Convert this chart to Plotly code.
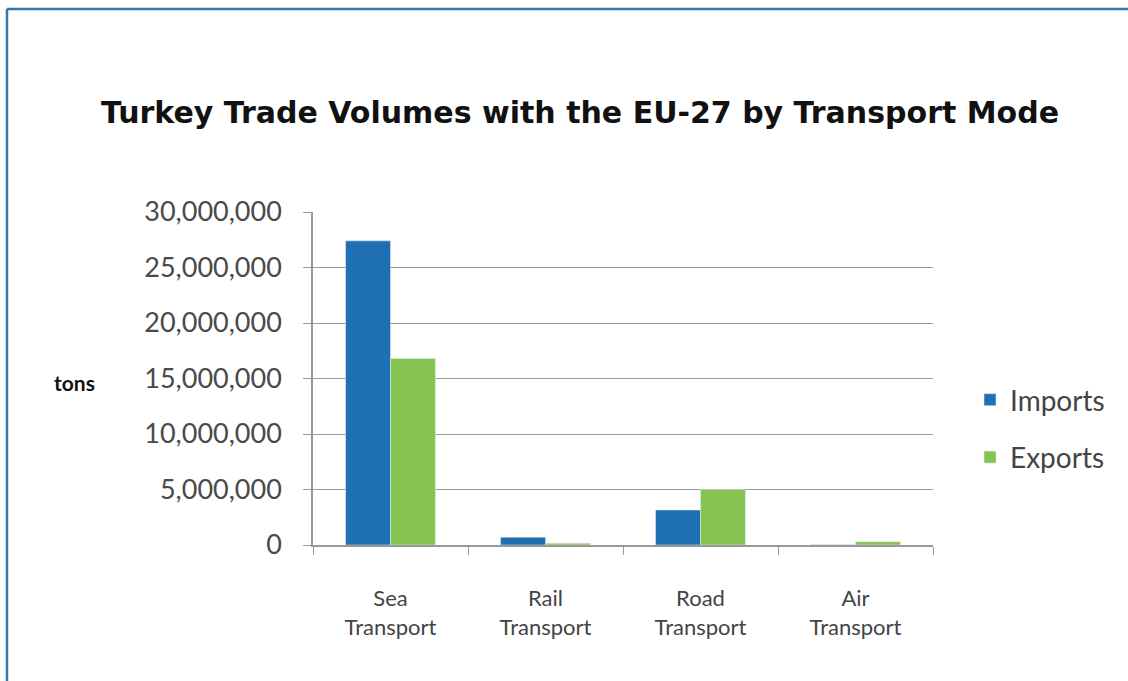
import plotly.graph_objects as go

categories = ["Sea<br>Transport", "Rail<br>Transport", "Road<br>Transport", "Air<br>Transport"]
imports = [27400000, 700000, 3150000, 20000]
exports = [16800000, 150000, 5000000, 300000]
y_ticks = [0, 5000000, 10000000, 15000000, 20000000, 25000000, 30000000]

W, H = 1128, 681
L, R, T, B = 313, 195, 212, 136
pw, ph = W - L - R, H - T - B

def px_x(x):
    return (x - L) / pw

def px_y(y):
    return (H - B - y) / ph

font_ticks = "Lato, 'Open Sans', sans-serif"

fig = go.Figure()
fig.add_trace(go.Bar(x=categories, y=imports, name="Imports", marker_color="#1f6fb5",
                     legendgroup="a"))
fig.add_trace(go.Bar(x=categories, y=exports, name="Exports", marker_color="#86c451",
                     legendgroup="b"))

border = "#3a75ad"
fig.update_layout(
    width=W, height=H,
    margin=dict(l=L, r=R, t=T, b=B, autoexpand=False),
    paper_bgcolor="white", plot_bgcolor="white",
    barmode="group", bargap=0.42, bargroupgap=0,
    showlegend=True,
    legend=dict(x=px_x(970), y=px_y(375), xanchor="left", yanchor="top",
                font=dict(family=font_ticks, size=28, color="#444"),
                tracegroupgap=18, traceorder="grouped", itemwidth=30,
                bgcolor="rgba(0,0,0,0)"),
    title=dict(text="<b>Turkey Trade Volumes with the EU-27 by Transport Mode</b>",
               x=px_x(580), xanchor="center", xref="paper",
               y=1 - 112 / H, yanchor="middle",
               font=dict(family="'DejaVu Sans', sans-serif", size=30, color="#111")),
    xaxis=dict(showgrid=False, showline=True, linecolor="#999", linewidth=1.5,
               ticks="outside", tickson="boundaries", ticklen=8, tickcolor="#999",
               ticklabelstandoff=33,
               tickfont=dict(family=font_ticks, size=22, color="#444")),
    yaxis=dict(range=[0, 30000000], tickvals=y_ticks, tickformat=",d",
               showgrid=True, gridcolor="#9a9a9a", gridwidth=1,
               showline=True, linecolor="#999", linewidth=1.5,
               ticks="outside", ticklen=8, tickcolor="#999",
               ticklabelstandoff=16,
               zeroline=False,
               tickfont=dict(family=font_ticks, size=27, color="#4a4a4a")),
    shapes=[
        dict(type="line", xref="paper", yref="paper",
             x0=px_x(7), x1=px_x(W + 5), y0=px_y(9), y1=px_y(9),
             line=dict(color=border, width=2.5)),
        dict(type="line", xref="paper", yref="paper",
             x0=px_x(7), x1=px_x(7), y0=px_y(9), y1=px_y(H + 5),
             line=dict(color=border, width=2.5)),
    ],
    annotations=[
        dict(text="<b>tons</b>", xref="paper", yref="paper", x=px_x(74), y=px_y(382),
             xanchor="center", yanchor="middle", showarrow=False,
             font=dict(family=font_ticks, size=21, color="#111")),
    ],
)

fig.write_html("out.html")
